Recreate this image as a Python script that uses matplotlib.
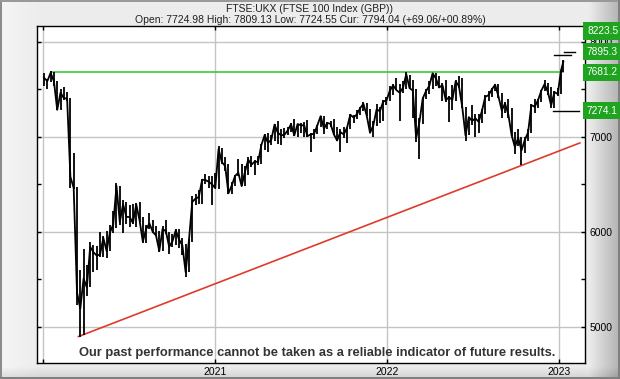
import numpy as np
import pandas as pd
import matplotlib
matplotlib.use('Agg')
import matplotlib.pyplot as plt
import matplotlib.dates as mdates

plt.rcParams['font.family'] = ['Liberation Sans', 'DejaVu Sans']

# FTSE 100 weekly bars (week ending Friday), Jan 2020 - Jan 2023
dates = list(pd.date_range('2020-01-03', periods=158, freq='W-FRI')) + [pd.Timestamp('2023-01-11')]

close = [
    # 2020
    7622, 7588, 7675, 7586, 7286, 7466, 7409, 7404, 6581, 6463,
    5366, 5191, 5510, 5416, 5843, 5787, 5752, 5763, 5936, 5800,
    5994, 6077, 6484, 6105, 6292, 6159, 6157, 6095, 6290, 6124,
    5898, 6032, 6090, 6002, 5964, 5799, 6032, 6007, 5843, 5902,
    6017, 5920, 5860, 5577, 5910, 6316, 6351, 6368, 6550, 6547,
    6529, 6502, 6461,
    # 2021
    6873, 6735, 6695, 6407, 6489, 6589, 6624, 6483, 6630, 6761,
    6709, 6741, 6737, 6916, 7020, 6938, 6970, 7130, 7044, 7018,
    7023, 7069, 7134, 7017, 7136, 7123, 7122, 7008, 7028, 7032,
    7122, 7219, 7088, 7148, 7138, 7029, 6963, 7051, 7027, 7095,
    7234, 7205, 7238, 7304, 7348, 7224, 7044, 7122, 7292, 7270,
    7373, 7385,
    # 2022
    7485, 7543, 7494, 7466, 7516, 7661, 7514, 7489, 6987, 7156,
    7405, 7483, 7538, 7670, 7616, 7521, 7545, 7388, 7418, 7390,
    7585, 7533, 7318, 7016, 7209, 7169, 7196, 7159, 7276, 7423,
    7440, 7501, 7550, 7427, 7281, 7351, 7237, 7019, 6894, 6991,
    6858, 6969, 7047, 7335, 7318, 7385, 7486, 7556, 7476, 7332,
    7473, 7452,
    # 2023
    7699, 7794,
]

high = [
    7675, 7615, 7690, 7680, 7590, 7510, 7530, 7470, 7410, 6830,
    6470, 5600, 5820, 5650, 5890, 5860, 5850, 6000, 5960, 6010,
    6070, 6220, 6511, 6480, 6340, 6320, 6280, 6290, 6310, 6320,
    6160, 6070, 6200, 6130, 6060, 6010, 6060, 6130, 6000, 5980,
    6030, 6030, 5940, 5870, 5930, 6380, 6400, 6440, 6560, 6610,
    6590, 6590, 6620,
    6903, 6880, 6790, 6720, 6530, 6600, 6770, 6720, 6690, 6790,
    6800, 6760, 6800, 6930, 7030, 7040, 7020, 7135, 7165, 7080,
    7090, 7110, 7150, 7190, 7140, 7150, 7160, 7180, 7040, 7080,
    7130, 7225, 7220, 7160, 7170, 7190, 7100, 7080, 7110, 7110,
    7240, 7230, 7280, 7320, 7370, 7360, 7290, 7170, 7350, 7320,
    7390, 7420,
    7540, 7560, 7620, 7560, 7590, 7687, 7650, 7600, 7500, 7200,
    7420, 7500, 7590, 7670, 7670, 7640, 7570, 7600, 7430, 7550,
    7600, 7640, 7620, 7320, 7210, 7340, 7240, 7240, 7290, 7440,
    7480, 7520, 7560, 7560, 7460, 7370, 7400, 7310, 7050, 7080,
    7000, 7000, 7080, 7350, 7400, 7400, 7490, 7600, 7570, 7530,
    7480, 7520,
    7710, 7809,
]

low = [
    7540, 7510, 7580, 7540, 7280, 7280, 7390, 7380, 6460, 6450,
    5230, 4899, 4920, 5330, 5420, 5580, 5600, 5740, 5740, 5730,
    5800, 5990, 6040, 6070, 5990, 6080, 6050, 6080, 6050, 6100,
    5880, 5880, 6030, 5990, 5960, 5790, 5800, 5980, 5770, 5840,
    5860, 5830, 5760, 5526, 5580, 5890, 6280, 6290, 6290, 6500,
    6460, 6280, 6460,
    6450, 6720, 6640, 6400, 6400, 6480, 6590, 6480, 6480, 6600,
    6680, 6600, 6700, 6720, 6860, 6840, 6920, 6960, 6930, 6920,
    6990, 7020, 7050, 7010, 7000, 7040, 7000, 7000, 6844, 6980,
    7030, 7110, 7030, 7080, 7100, 7020, 6960, 6840, 6990, 6940,
    7080, 7150, 7190, 7230, 7270, 7220, 7040, 7000, 7120, 7150,
    7170, 7340,
    7380, 7440, 7490, 7170, 7460, 7500, 7500, 7200, 6950, 6769,
    7140, 7400, 7450, 7500, 7540, 7520, 7380, 7370, 7160, 7280,
    7380, 7520, 7310, 6959, 7020, 7130, 7000, 7040, 7150, 7240,
    7380, 7420, 7480, 7410, 7200, 7250, 7200, 7010, 6820, 6900,
    6707, 6830, 6960, 7040, 7250, 7300, 7370, 7480, 7440, 7300,
    7300, 7430,
    7450, 7680,
]

# trend line (red), resistance (green) and target levels
trend_dates = [pd.Timestamp('2020-03-16'), pd.Timestamp('2023-02-15')]
trend_vals = [4899, 6937]
resist_dates = [pd.Timestamp('2020-01-17'), pd.Timestamp('2023-01-11')]
resist_val = 7681.2
targets = [7895.3, 7863.0, 7274.1]
target_dates = [
    (pd.Timestamp('2023-01-12'), pd.Timestamp('2023-02-05')),
    (pd.Timestamp('2022-12-23'), pd.Timestamp('2023-01-27')),
    (pd.Timestamp('2022-12-21'), pd.Timestamp('2023-02-13')),
]
box_labels = ['8223.5', '7895.3', '7681.2', '7274.1']
year_ticks = ['2020-01-01', '2021-01-01', '2022-01-01', '2023-01-01']
year_labels = ['', '2021', '2022', '2023']
price_ticks = [5000, 6000, 7000, 8000]

W, H = 620, 379
fig = plt.figure(figsize=(W / 100, H / 100), dpi=100)

# grey bevelled frame
bg = fig.add_axes([0, 0, 1, 1])
bg.axis('off')
yy, xx = np.mgrid[0:H, 0:W]
shade = 0.925 - 0.22 * np.clip((xx - 588) / 30.0, 0, 1) - 0.10 * np.clip((yy - 366) / 12.0, 0, 1)
shade = shade + 0.03 * np.clip((40 - xx) / 40.0, 0, 1)
shade[:, :2] = 0.55
shade[:2, :] = 0.6
shade[-2:, :] = 0.5
shade[:, -2:] = 0.5
bg.imshow(shade, cmap='gray', vmin=0, vmax=1, aspect='auto', interpolation='nearest')

ax = fig.add_axes([37 / W, 16 / H, 548 / W, 337 / H])
ax.set_facecolor('white')

ax.vlines(dates, low, high, color='black', lw=1.3, zorder=3)
ax.plot(dates, close, color='black', lw=1.3, zorder=3)

ax.plot(trend_dates, trend_vals, color='#e03a2a', lw=1.2, zorder=2)
ax.plot(resist_dates, [resist_val, resist_val], color='#3cc83c', lw=1.2, zorder=2)
for lvl, (d0, d1) in zip(targets, target_dates):
    ax.plot([d0, d1], [lvl, lvl], color='black', lw=1.0, zorder=4)

ax.set_xlim(pd.Timestamp('2019-12-19'), pd.Timestamp('2023-02-26'))
ax.set_ylim(4621, 8168)

ax.set_xticks([pd.Timestamp(d) for d in year_ticks])
ax.set_xticklabels(year_labels)
ax.set_yticks(price_ticks)
ax.set_yticks([5500, 6500, 7500], minor=True)
ax.set_yticklabels([str(p) for p in price_ticks])
ax.grid(True, which='major', color='#c4c4c4', lw=1.0, zorder=0)
ax.set_axisbelow(True)
ax.tick_params(axis='both', which='both', direction='in', length=3, width=1,
               top=True, right=True, labelsize=7.5, colors='black')
ax.tick_params(axis='y', labelleft=False, labelright=True, pad=3)
ax.tick_params(axis='x', pad=3)
for s in ax.spines.values():
    s.set_linewidth(1.0)
    s.set_color('black')

# green value boxes on the right
ytr = ax.get_yaxis_transform()
green = '#1ea41e'
for i, lab in enumerate(box_labels):
    if i == 0:
        tr, yv = ax.transAxes, 1 - 5 / 337
    else:
        tr, yv = ytr, float(lab)
    ax.text(1.0 + 2 / 548, yv, lab, transform=tr, ha='left', va='center',
            fontsize=7.3, color='white', clip_on=False, zorder=10,
            bbox=dict(boxstyle='square,pad=0.35', fc=green, ec='none'))

fig.text(0.5, 1 - 9 / H, 'FTSE:UKX (FTSE 100 Index (GBP))', ha='center', va='center',
         fontsize=7.5, color='#202020')
fig.text(0.5, 1 - 20 / H,
         'Open: 7724.98 High: 7809.13 Low: 7724.55 Cur: 7794.04 (+69.06/+00.89%)',
         ha='center', va='center', fontsize=7.5, color='#202020')

ax.text(317 / W, 1 - 353 / H,
        'Our past performance cannot be taken as a reliable indicator of future results.',
        transform=fig.transFigure, ha='center', va='center', fontsize=9.3,
        fontweight='bold', color='#333333', zorder=6)

fig.savefig('out.png', dpi=100)
